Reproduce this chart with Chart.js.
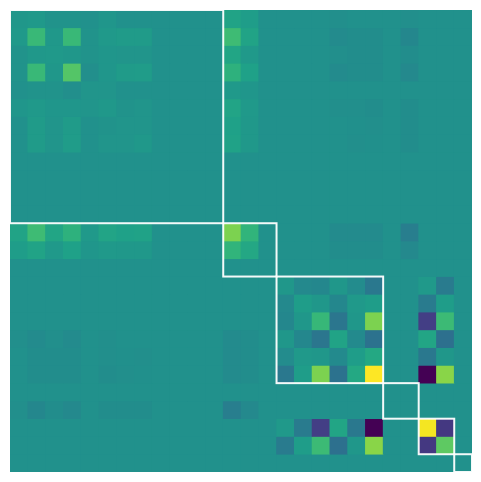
<!DOCTYPE html>
<html>
<head>
<meta charset="utf-8">
<script src="https://cdn.jsdelivr.net/npm/chart.js@4/dist/chart.umd.min.js"></script>
<style>
  html, body { margin: 0; padding: 0; background: #ffffff; }
  #wrap { width: 481px; height: 482px; }
</style>
</head>
<body>
<div id="wrap"><canvas id="c" width="481" height="482"></canvas></div>
<script>
// ---- data ----
const rowIndex = Array.from({length: 26}, (_, i) => i);
const colIndex = Array.from({length: 26}, (_, i) => i);
// block boundaries (start indices, last = size)
const blockEdges = [0, 12, 15, 21, 23, 25, 26];
const colorMin = -1;
const colorMax = 1;

const r00 = [ .05, .07, .02, .02, 0, .04, 0, 0, 0, 0, 0, 0, .15, .10, 0, 0, 0, 0, -.02, 0, 0, 0, -.02, 0, 0, 0];
const r01 = [ .07, .34, .06, .34, .02, .07, .08, .08, 0, 0, 0, 0, .37, .15, 0, 0, 0, 0, -.05, -.03, -.03, 0, -.08, 0, 0, 0];
const r02 = [ .02, .06, .07, .05, .02, .04, .03, .03, 0, 0, 0, 0, .17, .07, 0, 0, 0, 0, -.02, -.03, -.03, 0, -.03, 0, 0, 0];
const r03 = [ .02, .34, .05, .46, -.02, .04, .08, .09, 0, 0, 0, 0, .28, .13, 0, 0, 0, 0, -.05, -.03, -.03, 0, -.07, 0, 0, 0];
const r04 = [ 0, .02, .02, -.02, .03, .03, 0, 0, 0, 0, 0, 0, .07, .04, 0, 0, 0, 0, 0, 0, 0, 0, 0, 0, 0, 0];
const r05 = [ .04, .07, .04, .04, .03, .06, .02, .03, 0, 0, 0, 0, .16, .07, 0, 0, 0, 0, -.02, -.02, -.03, 0, -.03, 0, 0, 0];
const r06 = [ 0, .08, .03, .08, 0, .02, .03, .03, 0, 0, 0, 0, .13, .06, 0, 0, 0, 0, 0, -.01, -.02, 0, -.03, 0, 0, 0];
const r07 = [ 0, .08, .03, .09, 0, .03, .03, .06, 0, 0, 0, 0, .14, .06, 0, 0, 0, 0, 0, -.02, -.01, 0, -.03, 0, 0, 0];
const r08 = [ 0, 0, 0, 0, 0, 0, 0, 0, 0, 0, 0, 0, 0, 0, 0, 0, 0, 0, 0, 0, 0, 0, 0, 0, 0, 0];
const r09 = [ 0, 0, 0, 0, 0, 0, 0, 0, 0, 0, 0, 0, 0, 0, 0, 0, 0, 0, 0, 0, 0, 0, 0, 0, 0, 0];
const r10 = [ 0, 0, 0, 0, 0, 0, 0, 0, 0, 0, 0, 0, 0, 0, 0, 0, 0, 0, 0, 0, 0, 0, 0, 0, 0, 0];
const r11 = [ 0, 0, 0, 0, 0, 0, 0, 0, 0, 0, 0, 0, 0, 0, 0, 0, 0, 0, 0, 0, 0, 0, 0, 0, 0, 0];
const r12 = [ .15, .37, .17, .28, .07, .16, .13, .14, 0, 0, 0, 0, .60, .30, 0, 0, 0, 0, -.05, -.05, -.05, 0, -.16, 0, 0, 0];
const r13 = [ .10, .15, .07, .13, .04, .07, .06, .06, 0, 0, 0, 0, .30, .19, 0, 0, 0, 0, -.03, -.03, -.03, 0, -.07, 0, 0, 0];
const r14 = [ 0, 0, 0, 0, 0, 0, 0, 0, 0, 0, 0, 0, 0, 0, 0, 0, 0, 0, 0, 0, 0, 0, 0, 0, 0, 0];
const r15 = [ 0, 0, 0, 0, 0, 0, 0, 0, 0, 0, 0, 0, 0, 0, 0, .05, -.07, -.08, .05, -.04, -.20, 0, 0, .07, -.18, 0];
const r16 = [ 0, 0, 0, 0, 0, 0, 0, 0, 0, 0, 0, 0, 0, 0, 0, -.07, .10, .05, -.08, .07, .10, 0, 0, -.18, .10, 0];
const r17 = [ 0, 0, 0, 0, 0, 0, 0, 0, 0, 0, 0, 0, 0, 0, 0, -.08, .05, .33, -.22, .05, .60, 0, 0, -.64, .36, 0];
const r18 = [ -.02, -.05, -.02, -.05, 0, -.02, 0, 0, 0, 0, 0, 0, -.05, -.03, 0, .05, -.08, -.22, .15, -.06, -.25, 0, 0, .17, -.27, 0];
const r19 = [ 0, -.03, -.03, -.03, 0, -.02, -.01, -.02, 0, 0, 0, 0, -.05, -.03, 0, -.04, .07, .05, -.06, .10, .20, 0, 0, -.20, .05, 0];
const r20 = [ 0, -.03, -.03, -.03, 0, -.03, -.02, -.01, 0, 0, 0, 0, -.05, -.03, 0, -.20, .10, .60, -.25, .20, 1.0, 0, 0, -1.0, .64, 0];
const r21 = [ 0, 0, 0, 0, 0, 0, 0, 0, 0, 0, 0, 0, 0, 0, 0, 0, 0, 0, 0, 0, 0, 0, 0, 0, 0, 0];
const r22 = [ -.02, -.08, -.03, -.07, 0, -.03, -.03, -.03, 0, 0, 0, 0, -.16, -.07, 0, 0, 0, 0, 0, 0, 0, 0, 0, 0, 0, 0];
const r23 = [ 0, 0, 0, 0, 0, 0, 0, 0, 0, 0, 0, 0, 0, 0, 0, .07, -.18, -.64, .17, -.20, -1.0, 0, 0, .97, -.68, 0];
const r24 = [ 0, 0, 0, 0, 0, 0, 0, 0, 0, 0, 0, 0, 0, 0, 0, -.18, .10, .36, -.27, .05, .64, 0, 0, -.68, .50, 0];
const r25 = [ 0, 0, 0, 0, 0, 0, 0, 0, 0, 0, 0, 0, 0, 0, 0, 0, 0, 0, 0, 0, 0, 0, 0, 0, 0, 0];

const matrixRows = [r00, r01, r02, r03, r04, r05, r06, r07, r08, r09, r10, r11, r12,
                    r13, r14, r15, r16, r17, r18, r19, r20, r21, r22, r23, r24, r25];

// ---- viridis colormap ----
const viridisStops = ['#440154','#48186a','#472d7b','#424086','#3b528b','#33638d','#2c728e','#26828e',
  '#21918c','#1fa088','#28ae80','#3fbc73','#5ec962','#84d44b','#addc30','#d8e219','#fde725'];
function hexToRgb(h) { return [parseInt(h.slice(1,3),16), parseInt(h.slice(3,5),16), parseInt(h.slice(5,7),16)]; }
const viridisRgb = viridisStops.map(hexToRgb);
function viridis(t) {
  t = Math.max(0, Math.min(1, t));
  const p = t * (viridisRgb.length - 1);
  const i = Math.min(Math.floor(p), viridisRgb.length - 2);
  const f = p - i;
  const a = viridisRgb[i], b = viridisRgb[i + 1];
  const c = a.map((v, k) => Math.round(v + (b[k] - v) * f));
  return `rgb(${c[0]},${c[1]},${c[2]})`;
}
function colorFor(v) { return viridis((v - colorMin) / (colorMax - colorMin)); }

// ---- datasets: one per row, floating bars spanning one cell ----
const datasets = matrixRows.map((row, r) => ({
  data: row.map((v, c) => ({ x: colIndex[c], y: [rowIndex[r] - 0.5, rowIndex[r] + 0.5], v })),
  backgroundColor: row.map(v => colorFor(v)),
  borderWidth: 0,
  grouped: false,
  barPercentage: 1,
  categoryPercentage: 1
}));

const bgPlugin = {
  id: 'bgFill',
  beforeDatasetsDraw(chart) {
    const {ctx, chartArea: a} = chart;
    ctx.save();
    ctx.fillStyle = colorFor(0);
    ctx.fillRect(a.left, a.top, a.right - a.left, a.bottom - a.top);
    ctx.restore();
  }
};

const blockPlugin = {
  id: 'blocks',
  afterDatasetsDraw(chart) {
    const {ctx, chartArea: a, scales: {x, y}} = chart;
    ctx.save();
    ctx.beginPath();
    ctx.rect(a.left, a.top, a.right - a.left, a.bottom - a.top);
    ctx.clip();
    ctx.strokeStyle = 'rgba(255,255,255,0.95)';
    ctx.lineWidth = 2;
    for (let k = 0; k < blockEdges.length - 1; k++) {
      const s = blockEdges[k] - 0.5, e = blockEdges[k + 1] - 0.5;
      const x0 = x.getPixelForValue(s), x1 = x.getPixelForValue(e);
      const y0 = y.getPixelForValue(s), y1 = y.getPixelForValue(e);
      ctx.strokeRect(x0, y0, x1 - x0, y1 - y0);
    }
    ctx.restore();
  }
};

new Chart(document.getElementById('c'), {
  type: 'bar',
  data: { datasets },
  options: {
    responsive: false,
    animation: false,
    events: [],
    layout: { padding: { left: 10, top: 10, right: 9, bottom: 10 } },
    plugins: { legend: { display: false }, tooltip: { enabled: false } },
    scales: {
      x: { type: 'linear', min: -0.5, max: 25.5, offset: false, display: false, stacked: false },
      y: { type: 'linear', min: -0.5, max: 25.5, reverse: true, display: false }
    }
  },
  plugins: [bgPlugin, blockPlugin]
});
</script>
</body>
</html>
